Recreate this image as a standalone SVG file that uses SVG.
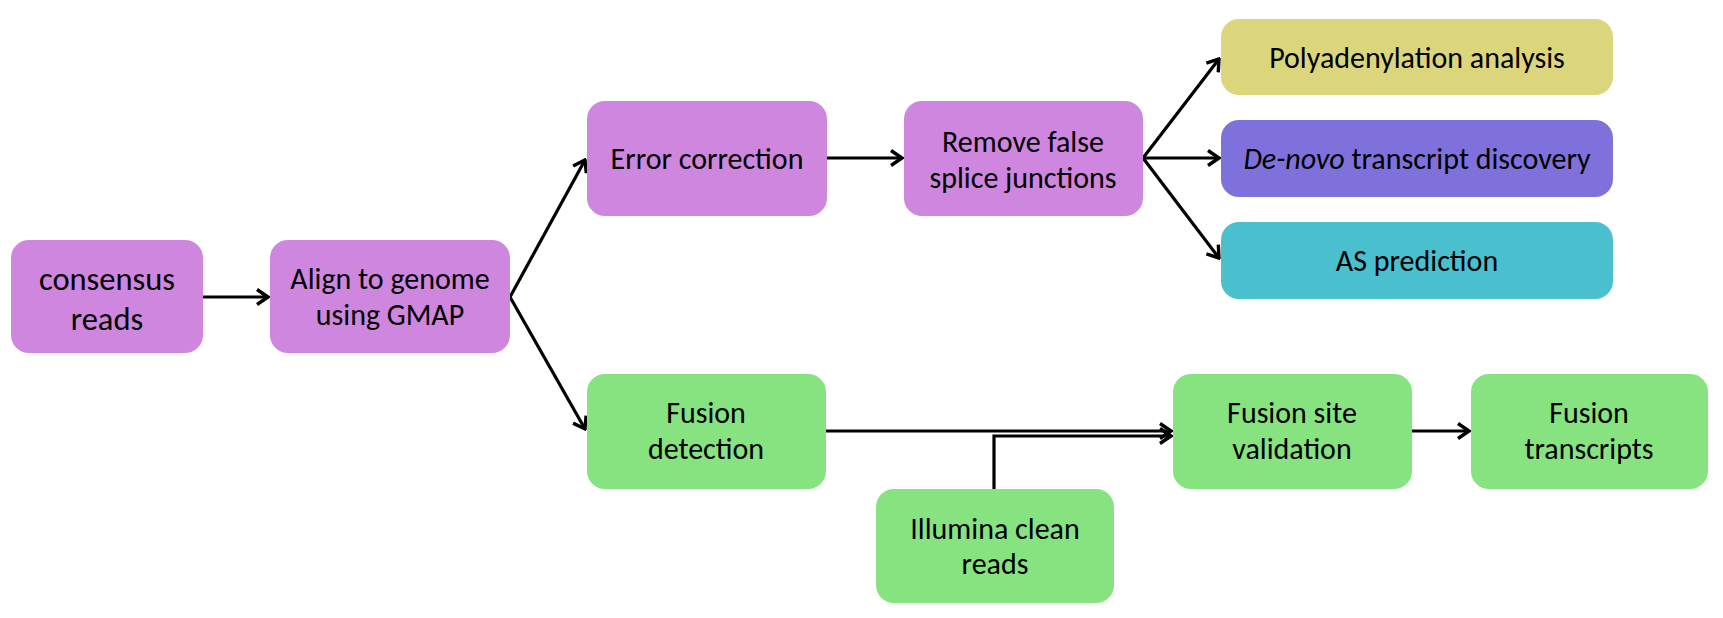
<svg xmlns="http://www.w3.org/2000/svg" width="1723" height="618" viewBox="0 0 1723 618">
<style>
.n rect{rx:18px;ry:18px}
.p{fill:#CF86DF}.g{fill:#86E380}.y{fill:#DBD67B}.v{fill:#7F71DB}.c{fill:#4ABFCD}
text{font-family:Carlito,Lato,"Liberation Sans",sans-serif;font-size:30px;fill:#000;text-anchor:middle}
.big{font-size:32.5px}
.e path{fill:none;stroke:#000;stroke-width:3.2}
</style>
<defs>
<marker id="a" viewBox="0 0 14 18" refX="12" refY="9" markerWidth="14" markerHeight="18" markerUnits="userSpaceOnUse" orient="auto">
<path d="M1,1.5 L12,9 L1,16.5" fill="none" stroke="#000" stroke-width="3.4"/>
</marker>
</defs>
<rect width="1723" height="618" fill="#fff"/>
<g class="e">
<path d="M203,297 H268" marker-end="url(#a)"/>
<path d="M510,297 L585,160" marker-end="url(#a)"/>
<path d="M510,297 L585,429" marker-end="url(#a)"/>
<path d="M827,158 H902" marker-end="url(#a)"/>
<path d="M1143,158 L1219,59" marker-end="url(#a)"/>
<path d="M1143,158 H1219" marker-end="url(#a)"/>
<path d="M1143,158 L1219,258" marker-end="url(#a)"/>
<path d="M826,431 H1171" marker-end="url(#a)"/>
<path d="M994,489 V436 H1171" marker-end="url(#a)"/>
<path d="M1412,431 H1469" marker-end="url(#a)"/>
</g>
<g id="consensus" class="n"><rect class="p" x="11" y="240" width="192" height="113"/><text class="big" x="107" y="290">consensus</text><text class="big" x="107" y="330">reads</text></g>
<g id="align" class="n"><rect class="p" x="270" y="240" width="240" height="113"/><text x="390" y="289">Align to genome</text><text x="390" y="325">using GMAP</text></g>
<g id="error" class="n"><rect class="p" x="587" y="101" width="240" height="115"/><text x="707" y="169">Error correction</text></g>
<g id="remove" class="n"><rect class="p" x="904" y="101" width="239" height="115"/><text x="1023" y="152">Remove false</text><text x="1023" y="188">splice junctions</text></g>
<g id="poly" class="n"><rect class="y" x="1221" y="19" width="392" height="76"/><text x="1417" y="68">Polyadenylation analysis</text></g>
<g id="denovo" class="n"><rect class="v" x="1221" y="120" width="392" height="77"/><text x="1417" y="169"><tspan font-style="italic">De-novo</tspan> transcript discovery</text></g>
<g id="as" class="n"><rect class="c" x="1221" y="222" width="392" height="77"/><text x="1417" y="271">AS prediction</text></g>
<g id="fusiondet" class="n"><rect class="g" x="587" y="374" width="239" height="115"/><text x="706" y="423">Fusion</text><text x="706" y="459">detection</text></g>
<g id="illumina" class="n"><rect class="g" x="876" y="489" width="238" height="114"/><text x="995" y="539">Illumina clean</text><text x="995" y="574">reads</text></g>
<g id="fusionsite" class="n"><rect class="g" x="1173" y="374" width="239" height="115"/><text x="1292" y="423">Fusion site</text><text x="1292" y="459">validation</text></g>
<g id="fusiontr" class="n"><rect class="g" x="1471" y="374" width="237" height="115"/><text x="1589" y="423">Fusion</text><text x="1589" y="459">transcripts</text></g>
</svg>
